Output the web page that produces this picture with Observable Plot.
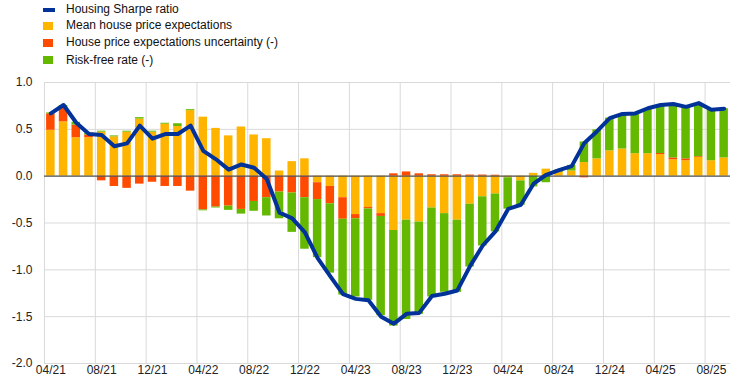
<!DOCTYPE html>
<html><head><meta charset="utf-8">
<script src="https://cdn.jsdelivr.net/npm/d3@7"></script>
<script src="https://cdn.jsdelivr.net/npm/@observablehq/plot@0.6"></script>
<style>
body{margin:0;background:#fff;font-family:"Liberation Sans",Arial,sans-serif;}
#legend{position:relative;height:70px;width:744px;}
.item{position:absolute;left:43px;height:17px;font-size:12px;color:#111;line-height:17px;}
.sw{position:absolute;left:0;top:4.5px;width:10px;height:8px;}
.ln{position:absolute;left:0;top:7px;width:12px;height:3.5px;}
.lab{position:absolute;left:23px;top:0;white-space:nowrap;}
</style></head><body>
<div id="legend"></div><div id="chart"></div>
<script>
// Monthly categories: 04/21 ... 09/25
const months = d3.utcMonths(new Date(Date.UTC(2021, 3, 1)), new Date(Date.UTC(2025, 9, 1))).map(d3.utcFormat("%m/%y"));

const seriesNames = ["Mean house price expectations", "House price expectations uncertainty (-)", "Risk-free rate (-)"];
const seriesColors = ["#FFB400", "#FF4B00", "#65B800"];
const lineName = "Housing Sharpe ratio";
const lineColor = "#003299";

const meanExpectations = [
  0.49, 0.58, 0.41, 0.41, 0.47, 0.42, 0.47, 0.61, 0.47, 0.555, 0.53, 0.70,
  0.63, 0.51, 0.43, 0.525, 0.44, 0.40, 0.055, 0.155, 0.185, -0.07, -0.11, -0.23,
  -0.41, -0.335, -0.40, -0.58, -0.47, -0.49, -0.34, -0.40, -0.47, -0.30, -0.22, -0.19,
  -0.017, -0.05, 0.03, 0.075, 0.04, 0.055, 0.145, 0.185, 0.27, 0.29, 0.24, 0.24,
  0.23, 0.175, 0.165, 0.20, 0.165, 0.195
];
const uncertainty = [
  0.175, 0.15, 0.135, 0.03, -0.05, -0.11, -0.13, -0.085, -0.065, -0.11, -0.11, -0.16,
  -0.36, -0.33, -0.32, -0.355, -0.27, -0.23, -0.17, -0.18, -0.23, -0.18, -0.185, -0.23,
  -0.045, -0.015, -0.03, 0.025, 0.045, 0.025, 0.015, 0.015, 0.015, 0.012, 0.012, 0.01,
  0, 0, 0, 0, 0, 0, -0.018, 0, 0, 0, 0, 0,
  0.012, 0.02, 0.02, 0.008, 0, 0
];
const riskFree = [
  0.01, 0.025, 0.03, 0.02, 0.01, 0.01, 0.01, 0.015, 0.01, 0.01, 0.03, 0.01,
  -0.01, -0.01, -0.045, -0.05, -0.105, -0.195, -0.285, -0.42, -0.55, -0.62, -0.74, -0.81,
  -0.835, -0.975, -1.06, -1.02, -1.06, -0.985, -0.95, -0.84, -0.77, -0.67, -0.525, -0.405,
  -0.335, -0.26, -0.115, -0.07, 0.025, 0.06, 0.22, 0.31, 0.35, 0.365, 0.43, 0.475,
  0.52, 0.57, 0.56, 0.555, 0.545, 0.525
];
const sharpe = [
  0.67, 0.76, 0.57, 0.45, 0.44, 0.32, 0.35, 0.54, 0.40, 0.45, 0.45, 0.54,
  0.27, 0.18, 0.07, 0.125, 0.09, -0.03, -0.39, -0.45, -0.60, -0.875, -1.07, -1.26,
  -1.31, -1.325, -1.50, -1.575, -1.47, -1.46, -1.28, -1.255, -1.22, -0.96, -0.74, -0.59,
  -0.35, -0.305, -0.08, 0.015, 0.065, 0.107, 0.355, 0.48, 0.62, 0.665, 0.67, 0.725,
  0.76, 0.77, 0.74, 0.78, 0.71, 0.72
];
const yTicks = [-2, -1.5, -1, -0.5, 0, 0.5, 1];
const labelEvery = 4;

// legend
const legend = document.getElementById("legend");
const entries = [{name: lineName, color: lineColor, line: true}].concat(seriesNames.map((n, k) => ({name: n, color: seriesColors[k]})));
const tops = [1, 17, 34, 51.5];
entries.forEach((e, k) => {
  const it = document.createElement("div");
  it.className = "item";
  it.style.top = tops[k] + "px";
  const sw = document.createElement("div");
  sw.className = e.line ? "ln" : "sw";
  sw.style.background = e.color;
  const lab = document.createElement("div");
  lab.className = "lab";
  lab.textContent = e.name;
  it.appendChild(sw); it.appendChild(lab);
  legend.appendChild(it);
});

// table for stacked bars
const seriesValues = [meanExpectations, uncertainty, riskFree];
const table = [];
seriesValues.forEach((vals, k) => vals.forEach((v, i) => table.push({i, i2: i + 1, value: v, series: seriesNames[k]})));
const lineData = sharpe.map((v, i) => ({x: i + 0.5, y: v}));
const gridX = months.map((m, i) => i).filter(i => i % labelEvery === 0);
const tickX = gridX.map(i => i + 0.5);

const chart = Plot.plot({
  width: 744,
  height: 320,
  marginLeft: 44,
  marginRight: 14,
  marginTop: 12,
  marginBottom: 27,
  style: {fontFamily: '"Liberation Sans", Arial, sans-serif', fontSize: "12px", color: "#222", background: "#fff"},
  x: {domain: [0, months.length], ticks: tickX, tickFormat: d => months[Math.round(d - 0.5)], tickSize: 0, tickPadding: 2, label: null},
  y: {domain: [-2, 1], ticks: yTicks, tickFormat: d => d.toFixed(1), tickSize: 0, tickPadding: 12, label: null},
  color: {domain: seriesNames, range: seriesColors},
  marks: [
    Plot.ruleY(yTicks, {stroke: "#d9d9d9", strokeWidth: 1}),
    Plot.ruleX(gridX, {x: d => d, stroke: "#d9d9d9", strokeWidth: 1}),
    Plot.rectY(table, {x1: "i", x2: "i2", y: "value", fill: "series", insetLeft: 2.1, insetRight: 2.1}),
    Plot.ruleY([0], {stroke: "#555", strokeWidth: 1.2}),
    Plot.lineY(lineData, {x: "x", y: "y", stroke: lineColor, strokeWidth: 4, strokeLinejoin: "round", strokeLinecap: "round"})
  ]
});
document.getElementById("chart").appendChild(chart);
</script></body></html>
